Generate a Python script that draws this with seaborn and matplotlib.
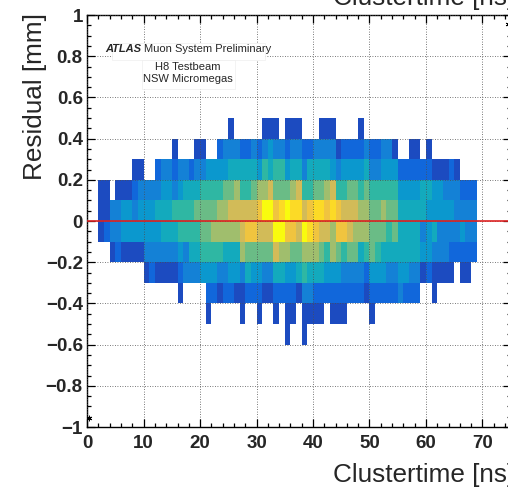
import numpy as np
import matplotlib.pyplot as plt
import matplotlib.patches as patches
from matplotlib.colors import LinearSegmentedColormap
from matplotlib.ticker import MultipleLocator, FuncFormatter
import seaborn as sns

# clustertime bins are 1 ns wide, first filled bin starts at 2 ns
first_bin = 2
bin_width = 1
# lower edge of each residual row (0.1 mm rows), top to bottom
row_lows = [0.4, 0.3, 0.2, 0.1, 0.0, -0.1, -0.2, -0.3, -0.4, -0.5, -0.6]

# bin contents for clustertime bins 2..68 ns
#            2-11                  12-21                 22-31                  32-41                     42-51                   52-61                 62-68
res_p04 = [0,0,0,0,0,0,0,0,0,0, 0,0,0,0,0,0,0,0,0,0, 0,0,0,1,0,0,0,0,0,1, 1,1,0,1,1,1,0,0,0,1, 1,1,0,0,0,0,1,0,0,0, 0,0,0,0,0,0,0,0,0,0, 0,0,0,0,0,0,0]
res_p03 = [0,0,0,0,0,0,0,0,0,0, 0,0,0,1,0,0,0,1,1,0, 0,2,3,3,3,2,2,3,2,3, 4,3,3,2,3,3,2,2,3,3, 3,3,1,2,2,2,2,3,2,2, 3,3,1,0,0,1,1,0,1,0, 0,0,0,0,0,0,0]
res_p02 = [0,0,0,0,0,0,1,1,0,0, 2,3,3,2,3,3,2,3,3,4, 4,4,4,5,5,5,5,5,4,6, 5,6,6,4,5,5,3,5,5,5, 5,4,3,4,4,4,4,5,3,3, 4,4,4,2,2,2,2,2,2,1, 1,1,2,1,0,0,0]
res_p01 = [1,1,0,1,1,1,2,3,3,3, 3,4,4,3,4,5,5,5,6,6, 6,6,7,7,8,6,6,7,8,8, 9,7,7,7,8,9,6,6,7,7, 8,9,6,6,7,7,6,7,6,6, 6,6,6,4,4,4,4,5,5,4, 4,3,3,3,2,2,2]
res_p00 = [1,1,3,3,4,4,3,4,4,4, 5,5,5,6,6,6,6,7,7,7, 7,8,8,9,9,9,9,9,10,12, 12,10,11,12,11,11,9,10,11,11, 10,11,10,9,9,9,8,8,7,7, 8,7,7,5,5,5,5,5,4,4, 4,4,4,3,3,3,3]
res_m01 = [1,2,3,3,4,4,4,4,4,4, 4,5,5,5,6,6,6,6,7,7, 8,8,8,8,8,9,10,10,9,9, 9,12,12,10,10,9,12,11,10,9, 9,8,10,10,9,8,8,8,7,7, 7,6,7,5,5,5,5,3,4,5, 3,3,3,3,4,3,3]
res_m02 = [0,0,1,2,1,1,1,1,3,3, 3,3,3,3,4,3,5,5,6,6, 6,6,5,5,5,8,7,7,7,7, 7,9,8,8,7,7,8,8,8,7, 6,8,7,6,7,7,5,6,7,6, 5,5,5,5,5,5,5,4,4,3, 3,3,2,2,2,2,2]
res_m03 = [0,0,0,0,0,0,0,0,1,2, 1,1,1,1,2,3,3,3,4,4, 4,3,3,4,4,3,5,4,4,3, 3,5,5,4,4,5,6,5,5,5, 4,4,4,3,3,3,3,2,4,4, 4,3,3,4,4,3,3,1,2,1, 1,1,1,0,1,1,0]
res_m04 = [0,0,0,0,0,0,0,0,0,0, 0,0,0,0,1,0,0,0,0,2, 2,1,2,2,1,1,2,2,2,1, 1,2,2,2,2,1,3,3,2,2, 2,2,2,2,2,2,2,1,2,2, 2,2,2,3,2,2,2,0,0,1, 0,0,0,0,0,0,0]
res_m05 = [0,0,0,0,0,0,0,0,0,0, 0,0,0,0,0,0,0,0,0,1, 0,0,0,0,0,1,0,0,1,0, 0,1,0,1,1,0,1,1,1,1, 0,1,1,1,0,0,0,0,1,0, 0,0,0,0,0,0,0,0,0,0, 0,0,0,0,0,0,0]
res_m06 = [0,0,0,0,0,0,0,0,0,0, 0,0,0,0,0,0,0,0,0,0, 0,0,0,0,0,0,0,0,0,0, 0,0,0,1,0,0,1,0,0,0, 0,0,0,0,0,0,0,0,0,0, 0,0,0,0,0,0,0,0,0,0, 0,0,0,0,0,0,0]
rows = [res_p04, res_p03, res_p02, res_p01, res_p00, res_m01,
        res_m02, res_m03, res_m04, res_m05, res_m06]

x_ticks = [0, 10, 20, 30, 40, 50, 60, 70]
y_ticks = [-1, -0.8, -0.6, -0.4, -0.2, 0, 0.2, 0.4, 0.6, 0.8, 1]

# the two little star markers root left in the corners
star_x = [0.4, 74.5]
star_y = [-0.955, 0.955]

# ROOT kBird palette
bird = LinearSegmentedColormap.from_list("bird", [
    (0.2082, 0.1664, 0.5293), (0.0592, 0.3599, 0.8684), (0.0780, 0.5041, 0.8385),
    (0.0232, 0.6419, 0.7914), (0.1802, 0.7178, 0.6425), (0.5301, 0.7492, 0.4662),
    (0.8186, 0.7328, 0.3499), (0.9956, 0.7862, 0.1968), (0.9764, 0.9832, 0.0539)])

xs, ys, ws = [], [], []
for low, row in zip(row_lows, rows):
    for i, n in enumerate(row):
        if n > 0:
            xs.append(first_bin + i * bin_width + bin_width / 2)
            ys.append(low + 0.05)
            ws.append(n)

x_edges = np.arange(0, 76, bin_width)
y_edges = np.round(np.arange(-1.0, 1.01, 0.1), 2)

sns.set_style("ticks")
plt.rcParams['font.family'] = ['Liberation Sans', 'DejaVu Sans']

W, H = 508, 487
fig = plt.figure(figsize=(W / 100, H / 100), dpi=100)
ax = fig.add_axes([87.2 / W, 60 / H, 423.4 / W, 412 / H])

sns.histplot(x=xs, y=ys, weights=ws, bins=[x_edges, y_edges],
             cmap=bird, vmin=0, vmax=12, ax=ax)

ax.axhline(0, color='#dd2222', lw=1.2, zorder=3)
ax.plot(star_x, star_y, ls='none', marker=(6, 2, 0), ms=4, mew=0.6,
        color='k', clip_on=False, zorder=4)

ax.set_xlim(0, 75)
ax.set_ylim(-1, 1)
ax.set_xlabel('')
ax.set_ylabel('')
ax.set_xticks(x_ticks)
ax.set_yticks(y_ticks)
ax.xaxis.set_minor_locator(MultipleLocator(2))
ax.yaxis.set_minor_locator(MultipleLocator(0.05))


def fmt(v, pos):
    s = '{:g}'.format(round(v, 2))
    if s == '-0':
        s = '0'
    return s.replace('-', '\u2212')


ax.xaxis.set_major_formatter(FuncFormatter(fmt))
ax.yaxis.set_major_formatter(FuncFormatter(fmt))
ax.tick_params(which='both', direction='in', top=True, right=True, color='k', width=0.9)
ax.tick_params(which='major', length=5.8)
ax.tick_params(which='minor', length=2.9)
ax.tick_params(axis='x', which='major', pad=5.5)
ax.tick_params(axis='y', which='major', pad=3.2)
for lab in ax.get_xticklabels() + ax.get_yticklabels():
    lab.set_fontsize(13.5)
    lab.set_fontweight('bold')
for sp in ax.spines.values():
    sp.set_visible(True)
    sp.set_linewidth(1.0)
    sp.set_color('k')

ax.set_axisbelow(False)
ax.grid(True, which='major', linestyle=(0, (1, 2)), color='0.3', linewidth=0.6)


def px(x, y):
    return x / W, 1 - y / H


# label boxes
for (x0, y0, x1, y1) in [(112, 43, 265, 60), (142, 60, 235, 89)]:
    fig.add_artist(patches.Rectangle(px(x0, y1), (x1 - x0) / W, (y1 - y0) / H,
                                     transform=fig.transFigure, facecolor='white',
                                     edgecolor='#eeeeee', lw=0.5, zorder=1))

fig.text(*px(105, 52.5), 'ATLAS', fontsize=8, fontweight='bold', fontstyle='italic',
         va='baseline', zorder=2)
fig.text(*px(144, 52.5), 'Muon System Preliminary', fontsize=8, va='baseline', zorder=2)
fig.text(*px(187.5, 69.5), 'H8 Testbeam', fontsize=8, ha='center', va='baseline', zorder=2)
fig.text(*px(188, 82.5), 'NSW Micromegas', fontsize=8, ha='center', va='baseline', zorder=2)

# axis titles (root puts them at the axis ends, partly off the canvas)
fig.text(*px(42.5, 12.7), 'Residual [mm]', fontsize=18.8, rotation=90,
         rotation_mode='anchor', ha='right', va='baseline')
fig.text(*px(333, 482), 'Clustertime [ns]', fontsize=18.8, va='baseline')
fig.text(*px(333, 5), 'Clustertime [ns]', fontsize=18.8, va='baseline')

fig.savefig('out.png', dpi=100)
